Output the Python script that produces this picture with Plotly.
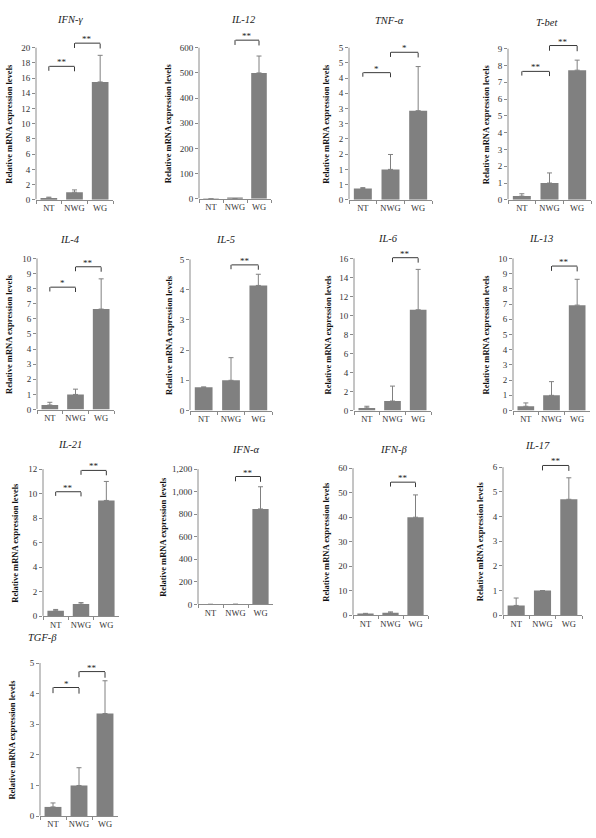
import plotly.graph_objects as go

W, H = 596, 838

categories = ["NT", "NWG", "WG"]
genes = ["IFN-γ", "IL-12", "TNF-α", "T-bet",
         "IL-4", "IL-5", "IL-6", "IL-13",
         "IL-21", "IFN-α", "IFN-β", "IL-17",
         "TGF-β"]
ytitle = "Relative mRNA expression levels"

# ---- mean relative expression ----
ifng_mean = [0.25, 1.0, 15.5]
il12_mean = [0.3, 1.0, 500]
tnfa_mean = [0.37, 1.0, 2.93]
tbet_mean = [0.22, 1.0, 7.72]
il4_mean = [0.3, 1.0, 6.65]
il5_mean = [0.77, 1.0, 4.14]
il6_mean = [0.28, 1.0, 10.6]
il13_mean = [0.28, 1.0, 6.93]
il21_mean = [0.46, 1.0, 9.45]
ifna_mean = [0.3, 1.0, 847]
ifnb_mean = [0.4, 1.0, 40.0]
il17_mean = [0.4, 1.0, 4.7]
tgfb_mean = [0.3, 1.0, 3.35]

# ---- upper error (SD) ----
ifng_err = [0.1, 0.3, 3.5]
il12_err = [0.0, 0.0, 67]
tnfa_err = [0.03, 0.49, 1.45]
tbet_err = [0.14, 0.6, 0.6]
il4_err = [0.18, 0.35, 2.0]
il5_err = [0.01, 0.75, 0.37]
il6_err = [0.17, 1.57, 4.25]
il13_err = [0.22, 0.9, 1.7]
il21_err = [0.1, 0.12, 1.55]
ifna_err = [0.0, 0.0, 197]
ifnb_err = [0.4, 0.4, 9.1]
il17_err = [0.3, 0.0, 0.87]
tgfb_err = [0.13, 0.58, 1.07]

# ---- y tick values / labels ----
ifng_ticks = [0, 2, 4, 6, 8, 10, 12, 14, 16, 18, 20]
il12_ticks = [0, 100, 200, 300, 400, 500, 600]
tnfa_ticks = [0, 0.5, 1, 1.5, 2, 2.5, 3, 3.5, 4, 4.5, 5]
tnfa_labels = ["0", "1", "1", "2", "2", "3", "3", "4", "4", "5", "5"]
tbet_ticks = [0, 1, 2, 3, 4, 5, 6, 7, 8, 9]
il4_ticks = [0, 1, 2, 3, 4, 5, 6, 7, 8, 9, 10]
il5_ticks = [0, 1, 2, 3, 4, 5]
il6_ticks = [0, 2, 4, 6, 8, 10, 12, 14, 16]
il13_ticks = [0, 1, 2, 3, 4, 5, 6, 7, 8, 9, 10]
il21_ticks = [0, 2, 4, 6, 8, 10, 12]
ifna_ticks = [0, 200, 400, 600, 800, 1000, 1200]
ifna_labels = ["0", "200", "400", "600", "800", "1,000", "1,200"]
ifnb_ticks = [0, 10, 20, 30, 40, 50, 60]
il17_ticks = [0, 1, 2, 3, 4, 5, 6]
tgfb_ticks = [0, 1, 2, 3, 4, 5]

# ---- significance brackets: (from idx, to idx, top, leg bottom, label) ----
ifng_sig = [(0, 1, 17.55, 16.9, "**"), (1, 2, 20.6, 19.9, "**")]
il12_sig = [(1, 2, 630, 609, "**")]
tnfa_sig = [(0, 1, 4.18, 4.03, "*"), (1, 2, 4.85, 4.68, "*")]
tbet_sig = [(0, 1, 7.65, 7.37, "**"), (1, 2, 9.19, 8.85, "**")]
il4_sig = [(0, 1, 8.1, 7.78, "*"), (1, 2, 9.45, 9.12, "**")]
il5_sig = [(1, 2, 4.82, 4.66, "**")]
il6_sig = [(1, 2, 16.08, 15.56, "**")]
il13_sig = [(1, 2, 9.5, 9.15, "**")]
il21_sig = [(0, 1, 10.16, 9.78, "**"), (1, 2, 11.9, 11.5, "**")]
ifna_sig = [(1, 2, 1135, 1088, "**")]
ifnb_sig = [(1, 2, 54.3, 52.3, "**")]
il17_sig = [(1, 2, 6.07, 5.85, "**")]
tgfb_sig = [(0, 1, 4.2, 4.0, "*"), (1, 2, 4.72, 4.52, "**")]

means = [ifng_mean, il12_mean, tnfa_mean, tbet_mean, il4_mean, il5_mean, il6_mean,
         il13_mean, il21_mean, ifna_mean, ifnb_mean, il17_mean, tgfb_mean]
errs = [ifng_err, il12_err, tnfa_err, tbet_err, il4_err, il5_err, il6_err,
        il13_err, il21_err, ifna_err, ifnb_err, il17_err, tgfb_err]
ticks = [ifng_ticks, il12_ticks, tnfa_ticks, tbet_ticks, il4_ticks, il5_ticks, il6_ticks,
         il13_ticks, il21_ticks, ifna_ticks, ifnb_ticks, il17_ticks, tgfb_ticks]
tick_labels = [None, None, tnfa_labels, None, None, None, None,
               None, None, ifna_labels, None, None, None]
sigs = [ifng_sig, il12_sig, tnfa_sig, tbet_sig, il4_sig, il5_sig, il6_sig,
        il13_sig, il21_sig, ifna_sig, ifnb_sig, il17_sig, tgfb_sig]

# ---- layout geometry in pixels: (axis left, axis right, y of zero, y of top tick) ----
panel_px = [(36, 113, 201, 48), (199, 271, 200, 48), (349, 432, 201, 48), (508, 591, 201, 49),
            (37, 114, 412, 260), (190, 272, 413, 261), (354, 431, 413, 260), (513, 590, 413, 260),
            (43, 119, 620, 472), (198, 273, 608, 472), (353, 428, 619, 471), (503, 582, 619, 470),
            (40, 118, 821, 667)]
title_px = [(70, 20), (243, 20), (389, 21), (547, 23),
            (70, 241), (225, 241), (388, 240), (541, 240),
            (70, 447), (245, 452), (393, 452), (537, 448),
            (42, 641)]
ytitle_x_px = [9, 168, 326, 486, 9, 169, 328, 486, 15, 163, 326, 480, 12]
HEADROOM = 1.12  # y range extends above top tick so brackets/stars are drawn

BAR = "#808080"
AXC = "#8a8a8a"
TXT = "#333333"
BR = "#222222"
FONT = "Liberation Serif"


def seg(xa, ya, sx, sy, ex, ey, color, width):
    return dict(x=ex, y=ey, ax=sx, ay=sy, xref=xa, yref=ya, axref=xa, ayref=ya,
                showarrow=True, arrowhead=0, arrowwidth=width, arrowcolor=color,
                text="", standoff=0, startstandoff=0, borderpad=0, font=dict(size=1))


fig = go.Figure()
layout = {}
annotations = []

for k, g in enumerate(genes):
    n = k + 1
    xa = "x" if n == 1 else f"x{n}"
    ya = "y" if n == 1 else f"y{n}"
    fig.add_trace(go.Bar(
        x=categories, y=means[k], xaxis=xa, yaxis=ya,
        marker=dict(color=BAR, line=dict(width=0)),
        error_y=dict(type="data", array=errs[k], arrayminus=[0, 0, 0], symmetric=False,
                     color=BAR, thickness=1, width=2.5),
        showlegend=False, hoverinfo="skip"))
    x0, x1, yb, yt = panel_px[k]
    top_tick = ticks[k][-1]
    ytop_px = yb - (yb - yt) * HEADROOM
    layout["xaxis" + ("" if n == 1 else str(n))] = dict(
        domain=[x0 / W, x1 / W], anchor=ya, type="category", range=[-0.5, 2.5],
        showline=True, linecolor=AXC, linewidth=1, ticks="outside", tickson="boundaries",
        ticklen=3, tickcolor=AXC, tickwidth=1, showgrid=False, zeroline=False, tickangle=0,
        tickfont=dict(family=FONT, size=8.5, color=TXT), fixedrange=True)
    yax = dict(
        domain=[1 - yb / H, 1 - ytop_px / H], anchor=xa, range=[0, top_tick * HEADROOM],
        tickvals=ticks[k], showline=False,
        ticks="outside", ticklen=3, tickcolor=AXC, tickwidth=1,
        showgrid=False, zeroline=False, fixedrange=True,
        tickfont=dict(family=FONT, size=9, color=TXT))
    if tick_labels[k] is not None:
        yax["ticktext"] = tick_labels[k]
    layout["yaxis" + ("" if n == 1 else str(n))] = yax

    # y axis line from 0 to top tick
    annotations.append(seg(xa, ya, -0.5, 0, -0.5, top_tick, AXC, 1))

    # y axis title
    annotations.append(dict(x=ytitle_x_px[k] / W, y=1 - (yb + yt) / 2 / H, xref="paper", yref="paper",
                            text=f"<b>{ytitle}</b>", textangle=-90, showarrow=False,
                            xanchor="center", yanchor="middle",
                            font=dict(family=FONT, size=8.5, color="#111111")))

    # panel title
    tx, ty = title_px[k]
    annotations.append(dict(x=tx / W, y=1 - ty / H, xref="paper", yref="paper",
                            text=f"<i>{g}</i>", showarrow=False, xanchor="center", yanchor="middle",
                            font=dict(family=FONT, size=10.5, color="#222222")))

    for (i, j, top, leg, lab) in sigs[k]:
        annotations.append(seg(xa, ya, i, leg, i, top, BR, 0.9))
        annotations.append(seg(xa, ya, i, top, j, top, BR, 0.9))
        annotations.append(seg(xa, ya, j, top, j, leg, BR, 0.9))
        annotations.append(dict(x=(i + j) / 2, y=top, xref=xa, yref=ya, text=lab, showarrow=False,
                                xanchor="center", yanchor="bottom", yshift=-3,
                                font=dict(family=FONT, size=9, color=BR)))

fig.update_layout(
    width=W, height=H, autosize=False,
    margin=dict(l=0, r=0, t=0, b=0),
    paper_bgcolor="white", plot_bgcolor="white",
    bargap=0.35, showlegend=False,
    annotations=annotations,
    font=dict(family=FONT, color=TXT),
    **layout)

fig.write_html("out.html")
